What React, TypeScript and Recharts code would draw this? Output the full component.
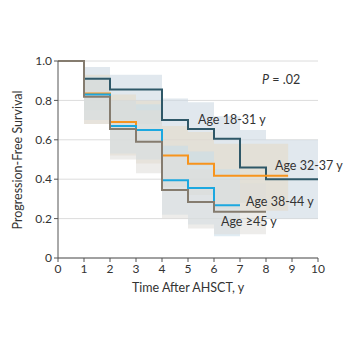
import React from 'react';
import { ComposedChart, Line, Area, XAxis, YAxis, CartesianGrid } from 'recharts';

// Kaplan-Meier estimates (years after AHSCT)
const yearTicks = [0, 1, 2, 3, 4, 5, 6, 7, 8, 9, 10];
const survTicks = [0, 0.2, 0.4, 0.6, 0.8, 1.0];

const t18 = [0, 1, 2, 3, 4, 5, 6, 7, 8, 9, 10];
const s18 = [1, 0.91, 0.855, 0.855, 0.7, 0.655, 0.605, 0.46, 0.4, 0.4, 0.4];
const lo18 = [null, 0.75, 0.68, 0.68, 0.52, 0.47, 0.42, 0.28, 0.2, 0.2, 0.2];
const hi18 = [null, 0.97, 0.93, 0.93, 0.81, 0.79, 0.72, 0.65, 0.6, 0.6, 0.6];

const t32 = [0, 1, 2, 3, 4, 5, 6, 7, 8, 8.85];
const s32 = [1, 0.835, 0.69, 0.65, 0.52, 0.478, 0.418, 0.418, 0.418, 0.418];
const lo32 = [null, 0.68, 0.52, 0.48, 0.36, 0.32, 0.25, 0.24, 0.24, 0.24];
const hi32 = [null, 0.93, 0.83, 0.8, 0.67, 0.64, 0.58, 0.58, 0.58, 0.58];

const t38 = [0, 1, 2, 3, 4, 5, 6, 7];
const s38 = [1, 0.83, 0.67, 0.65, 0.395, 0.355, 0.268, 0.268];
const lo38 = [null, 0.7, 0.53, 0.5, 0.22, 0.17, 0.11, 0.11];
const hi38 = [null, 0.92, 0.8, 0.78, 0.57, 0.54, 0.45, 0.45];

const t45 = [0, 1, 2, 3, 4, 5, 6, 7, 8];
const s45 = [1, 0.818, 0.655, 0.59, 0.345, 0.284, 0.235, 0.235, 0.235];
const lo45 = [null, 0.68, 0.5, 0.43, 0.2, 0.15, 0.12, 0.12, 0.12];
const hi45 = [null, 0.91, 0.8, 0.75, 0.52, 0.45, 0.4, 0.38, 0.38];

function rows(t: number[], s: number[], lo: (number | null)[], hi: (number | null)[]) {
  return t.map((x, i) => ({
    t: x,
    s: s[i],
    band: lo[i] == null ? null : [lo[i], hi[i]],
  }));
}

const d18 = rows(t18, s18, lo18, hi18);
const d32 = rows(t32, s32, lo32, hi32);
const d38 = rows(t38, s38, lo38, hi38);
const d45 = rows(t45, s45, lo45, hi45);

const font = 'Lato, "DejaVu Sans", sans-serif';

export default function App() {
  const tick = { fontSize: 12, fill: '#333', fontFamily: font };
  return (
    <div style={{ position: 'absolute', left: 0, top: 0, width: 350, height: 350, background: '#fff' }}>
      <ComposedChart width={350} height={350} margin={{ top: 61, right: 32, left: 30, bottom: 62 }}>
        <CartesianGrid vertical={false} stroke="#dcdcdc" />
        <XAxis
          type="number"
          dataKey="t"
          domain={[0, 10]}
          ticks={yearTicks}
          allowDuplicatedCategory={false}
          stroke="#555"
          tickSize={4}
          height={30}
          tick={tick}
          interval={0}
        />
        <YAxis
          type="number"
          domain={[0, 1]}
          ticks={survTicks}
          width={28}
          stroke="#555"
          tickSize={4}
          tick={tick}
          tickFormatter={(v: number) => (v === 0 ? '0' : v.toFixed(1))}
        />
        <Area data={d18} dataKey="band" type="stepAfter" stroke="none" fill="#cdd9e2" fillOpacity={0.6} isAnimationActive={false} />
        <Area data={d32} dataKey="band" type="stepAfter" stroke="none" fill="#e6d8c4" fillOpacity={0.55} isAnimationActive={false} />
        <Area data={d38} dataKey="band" type="stepAfter" stroke="none" fill="#c6dce9" fillOpacity={0.55} isAnimationActive={false} />
        <Area data={d45} dataKey="band" type="stepAfter" stroke="none" fill="#deddd9" fillOpacity={0.55} isAnimationActive={false} />
        <Line data={d18} dataKey="s" type="stepAfter" stroke="#2f5868" strokeWidth={2} dot={false} isAnimationActive={false} />
        <Line data={d32} dataKey="s" type="stepAfter" stroke="#f7941d" strokeWidth={2} dot={false} isAnimationActive={false} />
        <Line data={d38} dataKey="s" type="stepAfter" stroke="#1ca8e0" strokeWidth={2} dot={false} isAnimationActive={false} />
        <Line data={d45} dataKey="s" type="stepAfter" stroke="#857c6f" strokeWidth={2} dot={false} isAnimationActive={false} />
      </ComposedChart>
      <svg width={350} height={350} style={{ position: 'absolute', left: 0, top: 0, pointerEvents: 'none' }}>
        <g fontFamily={font} fontSize={12.5} fill="#333">
          <text x={262} y={84}>
            <tspan fontStyle="italic">P</tspan> = .02
          </text>
          <text x={198} y={124}>Age 18-31 y</text>
          <text x={275} y={170}>Age 32-37 y</text>
          <text x={246} y={206}>Age 38-44 y</text>
          <text x={221} y={226}>Age ≥45 y</text>
          <text x={188} y={292} textAnchor="middle">Time After AHSCT, y</text>
          <text x={22} y={160} textAnchor="middle" transform="rotate(-90 22 160)">Progression-Free Survival</text>
        </g>
      </svg>
    </div>
  );
}
